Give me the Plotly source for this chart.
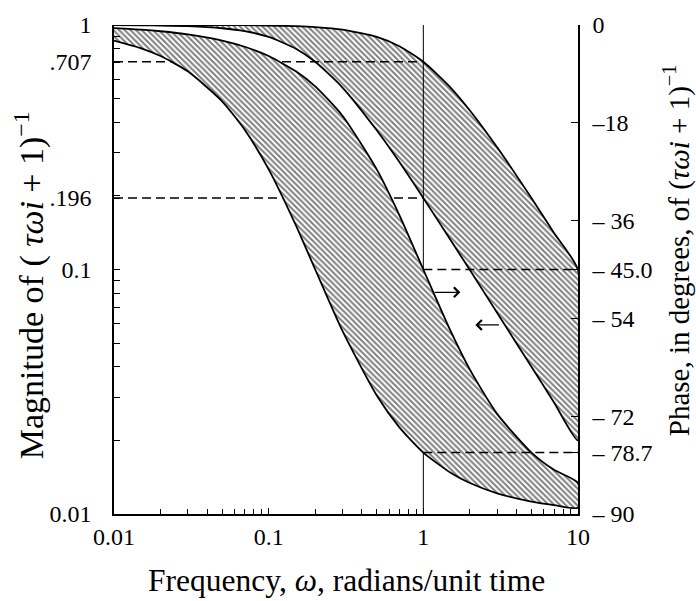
import plotly.graph_objects as go
import math

# ---- data ----
omega = [0.01, 0.015, 0.02, 0.03, 0.05, 0.07, 0.1, 0.15, 0.2, 0.3, 0.5, 0.7,
         1.0, 1.5, 2.0, 3.0, 5.0, 7.0, 10.0]
# magnitude band (left axis)
mag_tau1 = [1.000, 1.000, 1.000, 1.000, 0.999, 0.998, 0.995, 0.989, 0.981, 0.958,
            0.894, 0.819, 0.707, 0.555, 0.447, 0.316, 0.196, 0.141, 0.0995]
mag_tau5 = [0.999, 0.997, 0.995, 0.989, 0.970, 0.944, 0.894, 0.800, 0.707, 0.555,
            0.371, 0.275, 0.196, 0.132, 0.0995, 0.0665, 0.0400, 0.0286, 0.0200]
# phase band (right axis, degrees)
ph_tau1 = [-0.57, -0.86, -1.15, -1.72, -2.86, -4.00, -5.71, -8.53, -11.31, -16.70,
           -26.57, -34.99, -45.0, -56.31, -63.43, -71.57, -78.69, -81.87, -84.29]
ph_tau5 = [-2.86, -4.29, -5.71, -8.53, -14.04, -19.29, -26.57, -36.87, -45.0, -56.31,
           -68.20, -74.05, -78.69, -82.41, -84.29, -86.19, -87.71, -88.36, -88.85]

# reference (dashed) levels
mag_ref_levels = [0.707, 0.196]
phase_ref_levels = [-45.0, -78.7]
omega_ref = 1.0

# axis ticks
x_tickvals = [0.01, 0.1, 1, 10]
x_ticktext = ["0.01", "0.1", "1", "10"]
y_tickvals = [0.01, 0.1, 0.196, 0.707, 1]
y_ticktext = ["0.01", "0.1", ".196", ".707", "1"]
y2_tickvals = [0, -18, -36, -45, -54, -72, -78.7, -90]
y2_ticktext = ["0", "\u201318", "\u2013 36", "\u2013 45.0", "\u2013 54", "\u2013 72",
               "\u2013 78.7", "\u2013 90"]
minor_vals = [m * 10 ** e for e in (-2, -1, 0) for m in range(2, 10)]

# arrows: (tail omega, head omega, phase level)
arrow_right = (1.16, 1.735, -49.2)
arrow_left = (3.15, 2.17, -55.2)

FONT = "Liberation Serif"
pattern = dict(shape="\\", size=4, solidity=0.5, fgcolor="black", bgcolor="white")

fig = go.Figure()

# magnitude band (closed polygon)
fig.add_trace(go.Scatter(
    x=omega + omega[::-1], y=mag_tau1 + mag_tau5[::-1],
    mode="lines", line=dict(color="black", width=1.8, shape="spline", smoothing=0.6),
    fill="toself", fillcolor="rgba(0,0,0,0)", fillpattern=pattern,
    hoverinfo="skip", showlegend=False))

# phase band (closed polygon) on right axis
fig.add_trace(go.Scatter(
    x=omega + omega[::-1], y=ph_tau1 + ph_tau5[::-1], yaxis="y2",
    mode="lines", line=dict(color="black", width=1.8, shape="spline", smoothing=0.6),
    fill="toself", fillcolor="rgba(0,0,0,0)", fillpattern=pattern,
    hoverinfo="skip", showlegend=False))

# dashed reference lines
for lv in mag_ref_levels:
    fig.add_trace(go.Scatter(x=[x_tickvals[0], omega_ref], y=[lv, lv], mode="lines",
                             line=dict(color="black", width=1.5, dash="9px,5px"),
                             hoverinfo="skip", showlegend=False))
for lv in phase_ref_levels:
    fig.add_trace(go.Scatter(x=[omega_ref, x_tickvals[-1]], y=[lv, lv], yaxis="y2",
                             mode="lines",
                             line=dict(color="black", width=1.5, dash="9px,5px"),
                             hoverinfo="skip", showlegend=False))

# vertical line at omega = 1
fig.add_trace(go.Scatter(x=[omega_ref, omega_ref], y=[y_tickvals[0], y_tickvals[-1]],
                         mode="lines", line=dict(color="black", width=1),
                         hoverinfo="skip", showlegend=False))

# arrows
for tail, head, lvl in (arrow_right, arrow_left):
    fig.add_annotation(x=math.log10(head), y=lvl, xref="x", yref="y2",
                       ax=math.log10(tail), ay=lvl, axref="x", ayref="y2",
                       showarrow=True, arrowhead=4, arrowsize=1.6, arrowwidth=1.2,
                       arrowcolor="black", text="")

# axis titles as annotations
fig.add_annotation(x=-0.183, y=0.468, xref="paper", yref="paper",
                   text="Magnitude of ( <i>\u03c4\u03c9i</i> + 1)<sup>\u22121</sup>",
                   textangle=-90, showarrow=False, xanchor="center", yanchor="middle",
                   font=dict(family=FONT, size=34, color="black"))
fig.add_annotation(x=1.214, y=0.54, xref="paper", yref="paper",
                   text="Phase, in degrees, of (<i>\u03c4\u03c9i</i> + 1)<sup>\u22121</sup>",
                   textangle=-90, showarrow=False, xanchor="center", yanchor="middle",
                   font=dict(family=FONT, size=29, color="black"))
fig.add_annotation(x=0.5, y=-0.137, xref="paper", yref="paper",
                   text="Frequency, <i>\u03c9</i>, radians/unit time",
                   showarrow=False, xanchor="center", yanchor="middle",
                   font=dict(family=FONT, size=31.5, color="black"))

tickfont = dict(family=FONT, size=24, color="black")
fig.update_layout(
    width=696, height=601,
    margin=dict(l=114, r=118, t=18, b=87),
    paper_bgcolor="white", plot_bgcolor="white",
    showlegend=False,
    xaxis=dict(type="log", range=[-2, 1], showgrid=False, zeroline=False,
               showline=True, linecolor="black", linewidth=1.5, mirror=False,
               ticks="inside", ticklen=6, tickwidth=1, tickcolor="black",
               tickvals=x_tickvals, ticktext=x_ticktext, tickfont=tickfont,
               ticklabelstandoff=0,
               minor=dict(tickvals=minor_vals, ticks="inside", ticklen=5,
                          tickcolor="black", tickwidth=1, showgrid=False)),
    yaxis=dict(type="log", range=[-2, 0], showgrid=False, zeroline=False,
               showline=True, linecolor="black", linewidth=1.5,
               ticks="inside", ticklen=6, tickwidth=1, tickcolor="black",
               tickvals=y_tickvals, ticktext=y_ticktext, tickfont=tickfont,
               ticklabelstandoff=16,
               minor=dict(tickvals=minor_vals, ticks="inside", ticklen=6,
                          tickcolor="black", tickwidth=1, showgrid=False)),
    yaxis2=dict(overlaying="y", side="right", range=[-90, 0], showgrid=False,
                zeroline=False, showline=True, linecolor="black", linewidth=1.5,
                ticks="inside", ticklen=7, tickwidth=1, tickcolor="black",
                tickvals=y2_tickvals, ticktext=y2_ticktext, tickfont=tickfont,
                ticklabelstandoff=8),
)

fig.write_html("out.html")
